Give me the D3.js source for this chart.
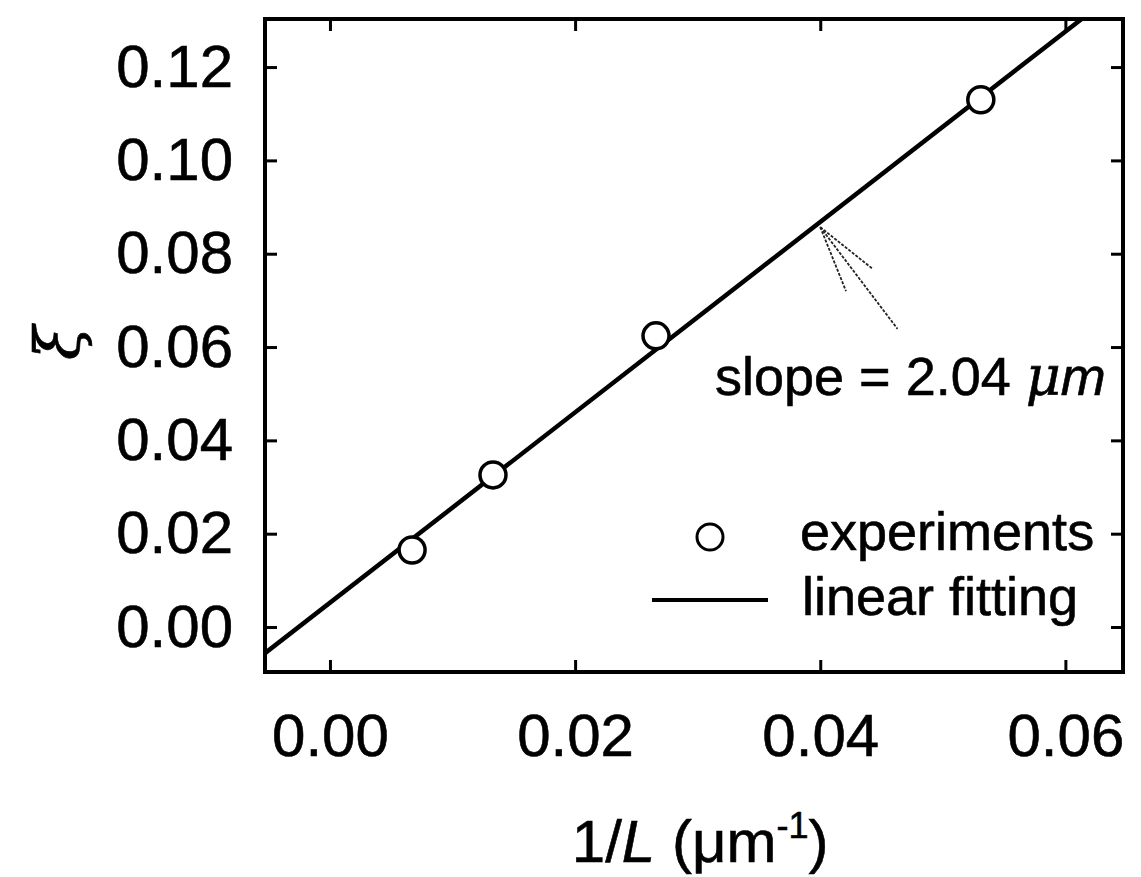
<!DOCTYPE html>
<html>
<head>
<meta charset="utf-8">
<script src="https://cdn.jsdelivr.net/npm/d3@7"></script>
<style>
  body { margin: 0; background: #fff; }
  text { font-family: "Liberation Sans", Arial, sans-serif; fill: #000; stroke: #000; stroke-width: 0.6px; }
</style>
</head>
<body>
<div id="chart"></div>
<script>
// Data
var invL = [0.0067, 0.0133, 0.0266, 0.0531];     // 1/L (um^-1)
var xi = [0.0165, 0.0326, 0.0624, 0.1130];       // xi
var fitSlope = 2.04;
var fitIntercept = 0.0052;
var xTicks = [0.00, 0.02, 0.04, 0.06];
var yTicks = [0.00, 0.02, 0.04, 0.06, 0.08, 0.10, 0.12];
// hand-drawn arrow, tip and three strokes (data units)
var arrowTip = [0.0400, 0.0857];
var arrowEnds = [[0.0421, 0.0720], [0.0443, 0.0767], [0.0463, 0.0639]];

var svgWidth = 1141;
var svgHeight = 877;
var margin = { top: 19, right: 18, bottom: 205, left: 265 };
var width = svgWidth - margin.left - margin.right;
var height = svgHeight - margin.top - margin.bottom;

var svg = d3.select("#chart").append("svg")
  .attr("width", svgWidth)
  .attr("height", svgHeight);

var g = svg.append("g")
  .attr("transform", `translate(${margin.left}, ${margin.top})`);

var x = d3.scaleLinear().domain([-0.0053, 0.0647]).range([0, width]);
var y = d3.scaleLinear().domain([-0.00964, 0.1303]).range([height, 0]);

var fmt = d3.format(".2f");

// axes with inward ticks
function styleAxis(sel) {
  sel.select(".domain").remove();
  sel.selectAll(".tick line").attr("stroke", "#000").attr("stroke-width", 3);
  sel.selectAll(".tick text").style("font-size", "60px").attr("fill", "#000");
}

g.append("g")
  .attr("transform", `translate(0, ${height})`)
  .call(d3.axisBottom(x).tickValues(xTicks).tickFormat(fmt).tickSizeInner(-12).tickSizeOuter(0).tickPadding(41))
  .call(styleAxis);

g.append("g")
  .call(d3.axisTop(x).tickValues(xTicks).tickFormat("").tickSizeInner(-12).tickSizeOuter(0))
  .call(styleAxis);

g.append("g")
  .call(d3.axisLeft(y).tickValues(yTicks).tickFormat(fmt).tickSizeInner(-12).tickSizeOuter(0).tickPadding(32))
  .call(styleAxis);

g.append("g")
  .attr("transform", `translate(${width}, 0)`)
  .call(d3.axisRight(y).tickValues(yTicks).tickFormat("").tickSizeInner(-12).tickSizeOuter(0))
  .call(styleAxis);

// frame
g.append("rect")
  .attr("width", width)
  .attr("height", height)
  .attr("fill", "none")
  .attr("stroke", "#000")
  .attr("stroke-width", 4);

// clip for the fit line
g.append("clipPath").attr("id", "plotClip")
  .append("rect").attr("width", width).attr("height", height);

var xd = x.domain();
var fitPts = [xd[0], xd[1]].map(v => [v, fitIntercept + fitSlope * v]);

g.append("path")
  .datum(fitPts)
  .attr("clip-path", "url(#plotClip)")
  .attr("fill", "none")
  .attr("stroke", "#000")
  .attr("stroke-width", 4.5)
  .attr("d", d3.line().x(d => x(d[0])).y(d => y(d[1])));

// experiment points
g.selectAll("circle.pt")
  .data(invL)
  .enter()
  .append("circle")
  .attr("class", "pt")
  .attr("cx", d => x(d))
  .attr("cy", (d, i) => y(xi[i]))
  .attr("r", 13)
  .attr("fill", "#fff")
  .attr("stroke", "#000")
  .attr("stroke-width", 3.5);

// arrow strokes
g.selectAll("line.arrow")
  .data(arrowEnds)
  .enter()
  .append("line")
  .attr("class", "arrow")
  .attr("x1", x(arrowTip[0]))
  .attr("y1", y(arrowTip[1]))
  .attr("x2", d => x(d[0]))
  .attr("y2", d => y(d[1]))
  .attr("stroke", "#222")
  .attr("stroke-width", 1.8)
  .attr("stroke-dasharray", "3,1.5");

// slope annotation
var slopeText = g.append("text")
  .attr("x", 450)
  .attr("y", 376)
  .style("font-size", "54px");
slopeText.append("tspan").text("slope = 2.04 ");
slopeText.append("tspan").style("font-family", "'DejaVu Serif', serif").style("font-style", "italic").text("μ");
slopeText.append("tspan").style("font-style", "italic").text("m");

// legend
var legend = g.append("g").attr("transform", "translate(387, 0)");
legend.append("circle")
  .attr("cx", 58).attr("cy", 518).attr("r", 13)
  .attr("fill", "#fff").attr("stroke", "#000").attr("stroke-width", 3);
legend.append("text")
  .attr("x", 148).attr("y", 531)
  .style("font-size", "54px")
  .text("experiments");
legend.append("line")
  .attr("x1", 0).attr("x2", 116).attr("y1", 581).attr("y2", 581)
  .attr("stroke", "#000").attr("stroke-width", 4);
legend.append("text")
  .attr("x", 150).attr("y", 596)
  .style("font-size", "54px")
  .text("linear fitting");

// x axis title
var xTitle = svg.append("text")
  .attr("x", margin.left + x(0.0302))
  .attr("y", 862)
  .attr("text-anchor", "middle")
  .style("font-size", "60px");
xTitle.append("tspan").text("1/");
xTitle.append("tspan").style("font-style", "italic").text("L");
xTitle.append("tspan").text(" (μm");
xTitle.append("tspan").attr("dy", -24).style("font-size", "36px").text("-1");
xTitle.append("tspan").attr("dy", 24).text(")");

// y axis title (rotated xi)
svg.append("text")
  .attr("transform", "translate(57, 343) rotate(-90)")
  .attr("text-anchor", "middle")
  .attr("dominant-baseline", "central")
  .style("font-family", "'DejaVu Serif', serif")
  .style("font-style", "italic")
  .style("font-size", "62px")
  .text("ξ");
</script>
</body>
</html>
